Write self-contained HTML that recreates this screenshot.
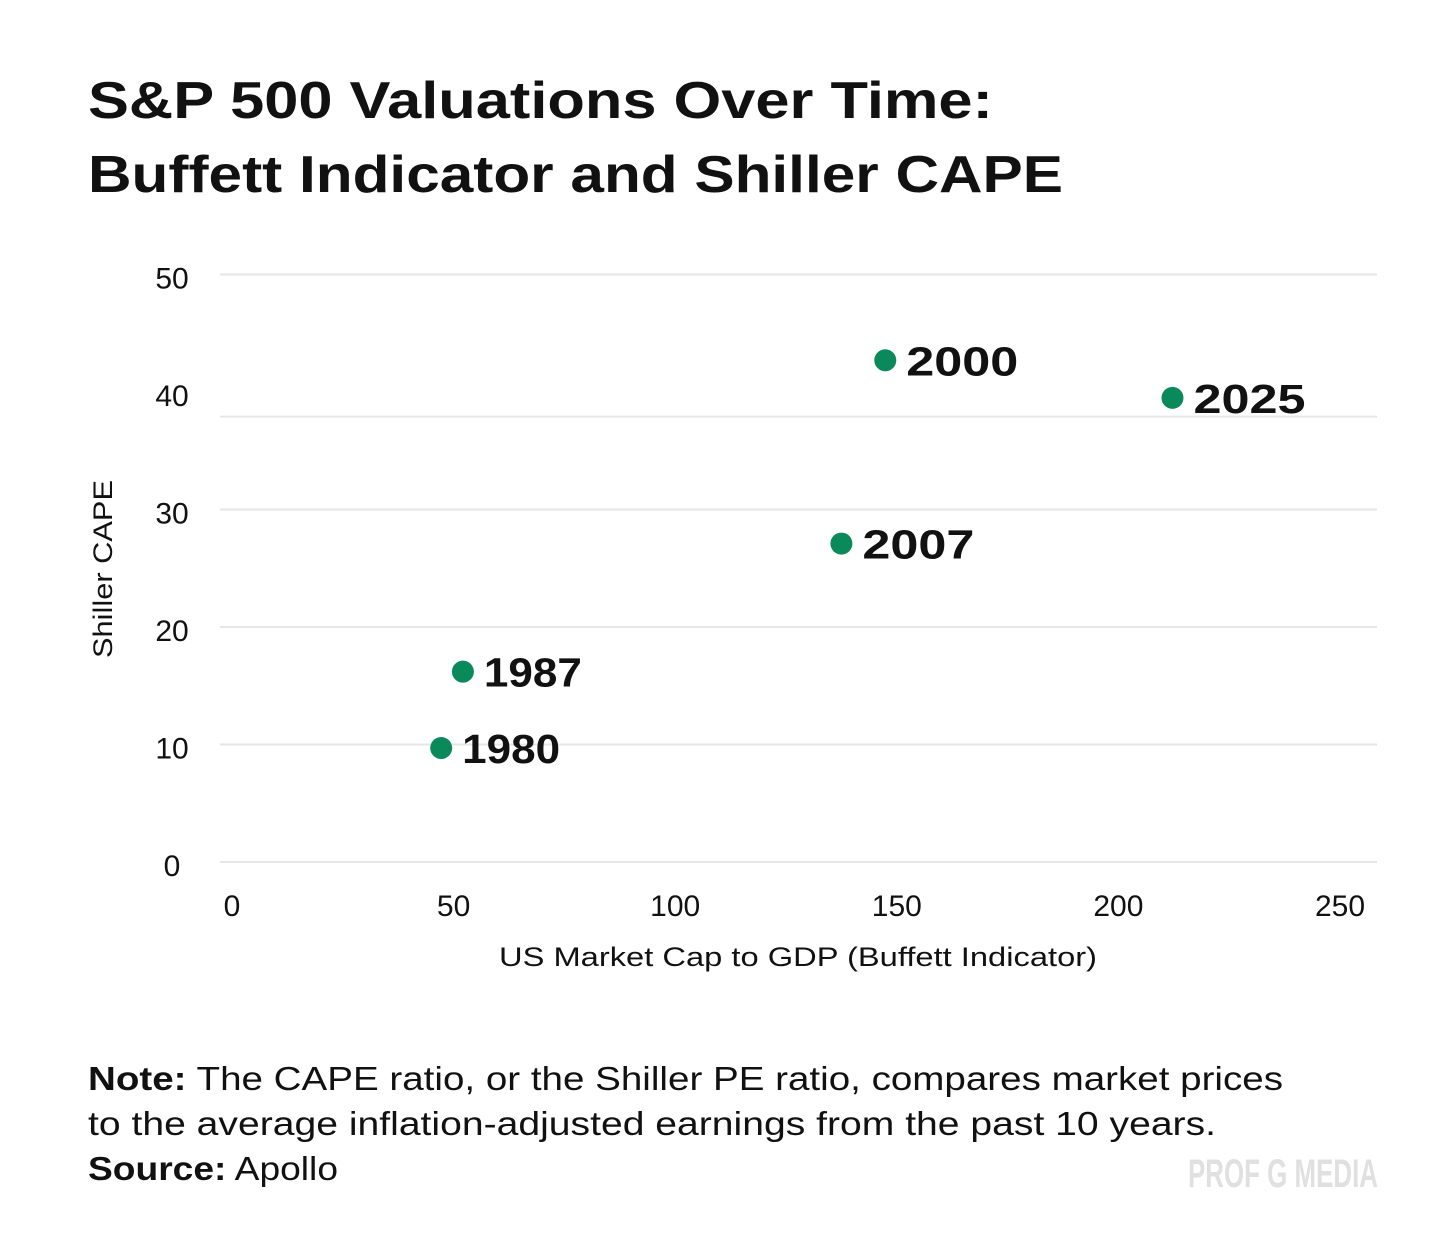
<!DOCTYPE html>
<html><head><meta charset="utf-8"><style>
html,body{margin:0;padding:0;background:#fff;}
svg{display:block;font-family:"Liberation Sans",sans-serif;}
</style></head><body>
<svg id="chart" width="1456" height="1257" viewBox="0 0 1456 1257" xmlns="http://www.w3.org/2000/svg">
<text x="88" y="118" font-size="52" font-weight="bold" fill="#111" textLength="905" lengthAdjust="spacingAndGlyphs">S&amp;P 500 Valuations Over Time:</text>
<text x="88" y="192" font-size="52" font-weight="bold" fill="#111" textLength="975" lengthAdjust="spacingAndGlyphs">Buffett Indicator and Shiller CAPE</text>
<g id="grid"></g>
<g id="yticks"></g>
<g id="xticks"></g>
<text transform="translate(112,569) rotate(-90)" text-anchor="middle" font-size="27" fill="#111" textLength="178" lengthAdjust="spacingAndGlyphs">Shiller CAPE</text>
<text x="798" y="966" text-anchor="middle" font-size="27" fill="#111" textLength="598" lengthAdjust="spacingAndGlyphs">US Market Cap to GDP (Buffett Indicator)</text>
<g id="points"></g>
<text x="88" y="1090" font-size="33" fill="#111" textLength="1195" lengthAdjust="spacingAndGlyphs"><tspan font-weight="bold">Note:</tspan> The CAPE ratio, or the Shiller PE ratio, compares market prices</text>
<text x="88" y="1135" font-size="33" fill="#111" textLength="1128" lengthAdjust="spacingAndGlyphs">to the average inflation-adjusted earnings from the past 10 years.</text>
<text x="88" y="1180" font-size="33" fill="#111" textLength="250" lengthAdjust="spacingAndGlyphs"><tspan font-weight="bold">Source:</tspan> Apollo</text>
<text x="1188" y="1187" font-size="40" font-weight="bold" fill="#e0e0e0" textLength="190" lengthAdjust="spacingAndGlyphs">PROF G MEDIA</text>
</svg>
<script>
const years = ["1980","1987","2000","2007","2025"];
const buffett = [47.2, 52.1, 147.4, 137.5, 212.2];
const cape = [9.7, 16.2, 42.7, 27.1, 39.5];
const yTicks = [0,10,20,30,40,50];
const xTicks = [0,50,100,150,200,250];
const gridValues = [0,10,20,30,37.9,50];

const NS="http://www.w3.org/2000/svg";
const xS = v => 232 + v*4.432;
const yS = v => 862 - v*11.75;
function mk(tag, parent, attrs){const e=document.createElementNS(NS,tag);for(const k in attrs)e.setAttribute(k,attrs[k]);parent.appendChild(e);return e;}
const grid=document.getElementById('grid'), yt=document.getElementById('yticks'), xt=document.getElementById('xticks'), pts=document.getElementById('points');
gridValues.forEach(v=>{
  const l=mk('line',grid,{x1:220,x2:1377,y1:yS(v),y2:yS(v),stroke:'#e6e6e6','stroke-width':2});
  
  
});
yTicks.forEach(v=>{
  const t=mk('text',yt,{x:172,y:yS(v)+14,'text-anchor':'middle','font-size':30,fill:'#111'});
  t.textContent=v;
  
  
});
xTicks.forEach(v=>{
  const t=mk('text',xt,{x:xS(v),y:916,'text-anchor':'middle','font-size':30,fill:'#111'});
  t.textContent=v;
  
  
});
years.forEach((yr,i)=>{
  const cx=xS(buffett[i]), cy=yS(cape[i]);
  const c=mk('circle',pts,{cx:cx,cy:cy,r:11,fill:'#0a8a5a'});
  
  
  const ones=yr.split('').filter(ch=>ch==='1').length;
  const t=mk('text',pts,{x:cx+21,y:cy+15,'font-size':41,'font-weight':'bold',fill:'#111',textLength:112-14*ones,lengthAdjust:'spacingAndGlyphs'});
  t.textContent=yr;
  
  
});
</script>
</body></html>
